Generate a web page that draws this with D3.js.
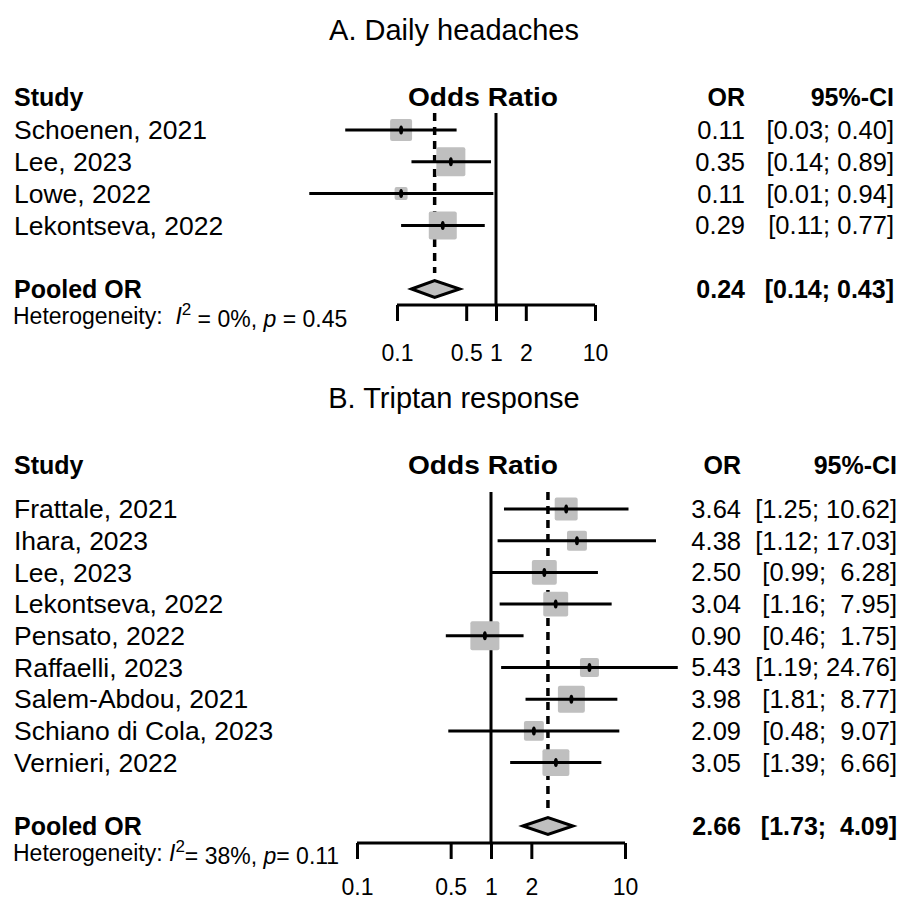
<!DOCTYPE html>
<html>
<head>
<meta charset="utf-8">
<script src="https://cdn.jsdelivr.net/npm/d3@7.9.0/dist/d3.min.js"></script>
<style>
  body { margin: 0; background: #fff; }
  svg text { font-family: "Liberation Sans", Arial, sans-serif; fill: #000; white-space: pre; }
</style>
</head>
<body>
<div id="chart"></div>
<script>
// Panel A - daily headaches
const studiesA = ['Schoenen, 2021', 'Lee, 2023', 'Lowe, 2022', 'Lekontseva, 2022'];
const orA = [0.11, 0.35, 0.11, 0.29];
const lowA = [0.03, 0.14, 0.013, 0.11];
const highA = [0.40, 0.89, 0.94, 0.77];
const weightA = [21.2, 36.9, 7.4, 34.4];
const pooledA = [0.24, 0.14, 0.43];
const hetA = ['0%', '0.45'];

// Panel B - triptan response
const studiesB = ['Frattale, 2021', 'Ihara, 2023', 'Lee, 2023', 'Lekontseva, 2022', 'Pensato, 2022',
    'Raffaelli, 2023', 'Salem-Abdou, 2021', 'Schiano di Cola, 2023', 'Vernieri, 2022'];
const orB = [3.64, 4.38, 2.50, 3.04, 0.90, 5.43, 3.98, 2.09, 3.05];
const lowB = [1.25, 1.12, 0.99, 1.16, 0.46, 1.19, 1.81, 0.48, 1.39];
const highB = [10.62, 17.03, 6.28, 7.95, 1.75, 24.76, 8.77, 9.07, 6.66];
const weightB = [10.1, 7.6, 11.9, 11.9, 16.1, 6.9, 13.9, 7.6, 13.9];
const pooledB = [2.66, 1.73, 4.09];
const hetB = ['38%', '0.11'];

const tickValues = [0.1, 0.5, 1, 2, 10];

const width = 905, height = 901;
const svg = d3.select('#chart').append('svg')
    .attr('width', width)
    .attr('height', height);

const fmt = d3.format('.2f');

function drawPanel(opt) {
    const g = svg.append('g');
    const n = opt.studies.length;
    const rowY = i => opt.row0 + i * opt.step;
    const pooledY = rowY(n + 1);

    const x = d3.scaleLog().domain([0.1, 10]).range(opt.xRange);
    const size = d3.scaleSqrt().domain([0, d3.max(opt.weight)]).range([0, 29]);

    // title and headers
    g.append('text').attr('x', 454).attr('y', opt.titleY).attr('dy', '0.35em')
        .attr('text-anchor', 'middle').style('font-size', '29px').text(opt.title);
    const head = g.append('g').style('font-size', '25px').style('font-weight', 'bold');
    head.append('text').attr('x', 14).attr('y', opt.headY).attr('dy', '0.35em').text('Study');
    head.append('text').attr('x', 483).attr('y', opt.headY).attr('dy', '0.35em')
        .attr('text-anchor', 'middle')
        .attr('textLength', 150).attr('lengthAdjust', 'spacingAndGlyphs')
        .text('Odds Ratio');
    head.append('text').attr('x', opt.orRight).attr('y', opt.headY).attr('dy', '0.35em')
        .attr('text-anchor', 'end').text('OR');
    head.append('text').attr('x', opt.ciRight).attr('y', opt.headY).attr('dy', '0.35em')
        .attr('text-anchor', 'end').text('95%-CI');

    // reference line at 1 and pooled dashed line
    g.append('line')
        .attr('x1', x(1)).attr('x2', x(1))
        .attr('y1', opt.refTop).attr('y2', opt.axisY)
        .attr('stroke', '#000').attr('stroke-width', 3);
    g.append('line')
        .attr('x1', x(opt.pooled[0])).attr('x2', x(opt.pooled[0]))
        .attr('y1', opt.refTop).attr('y2', pooledY - 16)
        .attr('stroke', '#000').attr('stroke-width', 3.5)
        .attr('stroke-dasharray', '8,6');

    // study rows
    const rows = g.selectAll('g.row')
        .data(opt.studies)
        .enter().append('g')
        .attr('class', 'row');

    rows.append('rect')
        .attr('x', (d, i) => x(opt.or[i]) - size(opt.weight[i]) / 2)
        .attr('y', (d, i) => rowY(i) - size(opt.weight[i]) / 2)
        .attr('width', (d, i) => size(opt.weight[i]))
        .attr('height', (d, i) => size(opt.weight[i]))
        .attr('rx', 2)
        .attr('fill', '#bfbfbf');

    rows.append('line')
        .attr('x1', (d, i) => x(opt.low[i]))
        .attr('x2', (d, i) => x(opt.high[i]))
        .attr('y1', (d, i) => rowY(i))
        .attr('y2', (d, i) => rowY(i))
        .attr('stroke', '#000').attr('stroke-width', 3);

    rows.append('ellipse')
        .attr('cx', (d, i) => x(opt.or[i]))
        .attr('cy', (d, i) => rowY(i))
        .attr('rx', 2).attr('ry', 4.5)
        .attr('fill', '#000');

    const maxHi = d3.max(opt.high, v => fmt(v).length);
    rows.append('text')
        .attr('x', 14).attr('y', (d, i) => rowY(i)).attr('dy', '0.35em')
        .style('font-size', '26.5px')
        .text(d => d);
    rows.append('text')
        .attr('x', opt.orRight).attr('y', (d, i) => rowY(i)).attr('dy', '0.35em')
        .attr('text-anchor', 'end').style('font-size', '25.5px')
        .text((d, i) => fmt(opt.or[i]));
    rows.append('text')
        .attr('x', opt.ciRight).attr('y', (d, i) => rowY(i)).attr('dy', '0.35em')
        .attr('text-anchor', 'end').style('font-size', '25.5px')
        .text((d, i) => `[${fmt(opt.low[i])}; ${fmt(opt.high[i]).padStart(maxHi)}]`);

    // pooled diamond
    const p = opt.pooled;
    g.append('path')
        .attr('d', `M${x(p[1])},${pooledY} L${x(p[0])},${pooledY - 8.5} L${x(p[2])},${pooledY} L${x(p[0])},${pooledY + 8.5} Z`)
        .attr('fill', '#bfbfbf').attr('stroke', '#000').attr('stroke-width', 3)
        .attr('stroke-linejoin', 'miter');

    g.append('text').attr('x', 14).attr('y', pooledY).attr('dy', '0.35em')
        .style('font-size', '25px').style('font-weight', 'bold').text('Pooled OR');
    g.append('text').attr('x', opt.orRight).attr('y', pooledY).attr('dy', '0.35em')
        .attr('text-anchor', 'end').style('font-size', '25px').style('font-weight', 'bold')
        .text(fmt(p[0]));
    g.append('text').attr('x', opt.ciRight).attr('y', pooledY).attr('dy', '0.35em')
        .attr('text-anchor', 'end').style('font-size', '25px').style('font-weight', 'bold')
        .text(`[${fmt(p[1])}; ${fmt(p[2]).padStart(maxHi)}]`);

    // heterogeneity line
    const het = g.append('text').attr('x', 13).attr('y', pooledY + 27).attr('dy', '0.35em')
        .style('font-size', '23px');
    het.append('tspan').text(opt.hetLead);
    het.append('tspan').style('font-style', 'italic').text('I');
    het.append('tspan').attr('dy', '-0.55em').style('font-size', '17px').text('2');
    het.append('tspan').attr('dy', '0.55em').text(`${opt.eq}${opt.het[0]}, `);
    het.append('tspan').style('font-style', 'italic').text('p');
    het.append('tspan').text(`${opt.eq}${opt.het[1]}`);

    // axis
    const axis = d3.axisBottom(x)
        .tickValues(tickValues)
        .tickSize(16)
        .tickPadding(opt.tickPad)
        .tickFormat(d => String(d));
    const ax = g.append('g')
        .attr('transform', `translate(0,${opt.axisY})`)
        .call(axis);
    ax.select('.domain').attr('d', `M${x(0.1)},0H${x(10)}`)
        .attr('stroke-width', 3);
    ax.selectAll('.tick line').attr('stroke-width', 3);
    ax.selectAll('.tick text')
        .style('font-family', '"Liberation Sans", Arial, sans-serif')
        .style('font-size', '23px');
}

drawPanel({
    title: 'A. Daily headaches',
    studies: studiesA, or: orA, low: lowA, high: highA, weight: weightA,
    pooled: pooledA, het: hetA, hetLead: 'Heterogeneity:  ', eq: ' = ',
    titleY: 30, headY: 97, row0: 130, step: 31.8,
    xRange: [397, 595], refTop: 113, axisY: 305, tickPad: 24,
    orRight: 745, ciRight: 894
});

drawPanel({
    title: 'B. Triptan response',
    studies: studiesB, or: orB, low: lowB, high: highB, weight: weightB,
    pooled: pooledB, het: hetB, hetLead: 'Heterogeneity: ', eq: '= ',
    titleY: 398, headY: 465, row0: 509, step: 31.7,
    xRange: [357, 625], refTop: 492, axisY: 843, tickPad: 20,
    orRight: 741, ciRight: 897
});
</script>
</body>
</html>
